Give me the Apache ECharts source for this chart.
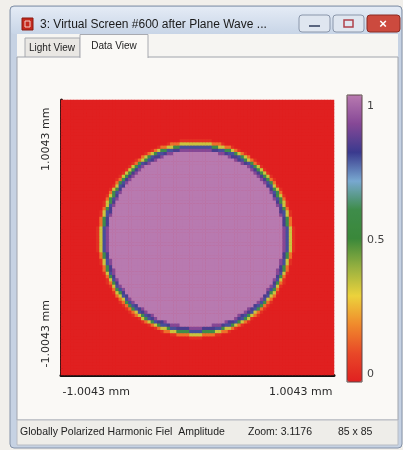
<!DOCTYPE html>
<html>
<head>
<meta charset="utf-8">
<script src="https://cdn.jsdelivr.net/npm/echarts@6/dist/echarts.min.js"></script>
<style>
html, body { margin: 0; padding: 0; background: #f1efeb; }
#main { width: 403px; height: 450px; }
</style>
</head>
<body>
<div id="main"></div>
<script>
// virtual screen: 85 x 85 samples
const gridSize = 85
const axisTicks = ["-1.0043 mm", "1.0043 mm"]
const barTicks = [0, 0.5, 1]
// aperture, measured in samples from the picture
const diskCenter = [41.5, 41.7]
const innerValue = 1.0
const edgeStart = 27 // radius where the rim begins
const edgeStep = 0.5
const edgeProfile = [1.0, 0.9, 0.82, 0.78, 0.6, 0.34, 0.16, 0.04, 0]
// colour table of the amplitude bar, 0 -> 1 in steps of 0.1
const barColors = ["#e02020", "#e84828", "#f08a2c", "#ecd23c", "#96b040", "#3a883a",
  "#3e8c4a", "#78a8d0", "#3a3a8e", "#864896", "#b87ab0"]

const cats = []
for (let i = 0; i < gridSize; i++) cats.push(i)

// amplitude per sample, looked up from the rim profile
const cells = []
for (let y = 0; y < gridSize; y++) {
  for (let x = 0; x < gridSize; x++) {
    const r = Math.hypot(x - diskCenter[0], y - diskCenter[1])
    const k = Math.round((r - edgeStart) / edgeStep)
    let v = 0
    if (k < 0) v = innerValue
    else if (k < edgeProfile.length) v = edgeProfile[k]
    cells.push([x, y, v])
  }
}

const uiFont = "Liberation Sans"
const labelStyle = { color: "#2a2a2a", fontSize: 11, fontFamily: "DejaVu Sans" }

// window chrome of the viewer
const chrome = [
  { type: "rect", z: -10, shape: { x: 10, y: 6, width: 392, height: 442, r: 4 },
    style: { fill: "#c6d2e3", stroke: "#8492a8" } },
  { type: "rect", z: -9, shape: { x: 11, y: 7, width: 390, height: 27, r: 3 },
    style: { fill: new echarts.graphic.LinearGradient(0, 0, 0, 1, [
      { offset: 0, color: "#e4ebf5" }, { offset: 1, color: "#c8d5e7" }]) } },
  { type: "rect", z: -8, shape: { x: 22, y: 18, width: 11, height: 12 },
    style: { fill: "#c4281c", stroke: "#8a1a10" } },
  { type: "rect", z: -7, shape: { x: 25, y: 21, width: 5, height: 6 },
    style: { fill: "none", stroke: "#f4d0c8", lineWidth: 1 } },
  { type: "text", z: -7, x: 40, y: 25,
    style: { text: "3: Virtual Screen #600 after Plane Wave ...", fill: "#1a1a1a",
      font: "12px " + uiFont, verticalAlign: "middle" } },
  { type: "rect", z: -8, shape: { x: 299, y: 15, width: 31, height: 17, r: 3 },
    style: { fill: "#dfe6f0", stroke: "#8a96aa" } },
  { type: "rect", z: -7, shape: { x: 309, y: 25, width: 11, height: 2 },
    style: { fill: "#5a6680" } },
  { type: "rect", z: -8, shape: { x: 333, y: 15, width: 31, height: 17, r: 3 },
    style: { fill: "#dfe6f0", stroke: "#8a96aa" } },
  { type: "rect", z: -7, shape: { x: 344, y: 20, width: 9, height: 7 },
    style: { fill: "none", stroke: "#b0404a", lineWidth: 1.5 } },
  { type: "rect", z: -8, shape: { x: 367, y: 15, width: 33, height: 17, r: 3 },
    style: { fill: "#cc4a3e", stroke: "#8a2a22" } },
  { type: "text", z: -7, x: 383, y: 24,
    style: { text: "×", fill: "#fff", font: "bold 13px " + uiFont, align: "center", verticalAlign: "middle" } },
  { type: "rect", z: -9, shape: { x: 17, y: 34, width: 381, height: 24 },
    style: { fill: "#f6f5f2" } },
  { type: "rect", z: -8, shape: { x: 25, y: 38, width: 55, height: 20 },
    style: { fill: "#e9e7e3", stroke: "#a8aab0" } },
  { type: "text", z: -7, x: 52, y: 48,
    style: { text: "Light View", fill: "#222", font: "10px " + uiFont, align: "center", verticalAlign: "middle" } },
  { type: "rect", z: -8, shape: { x: 17, y: 57, width: 381, height: 363 },
    style: { fill: "#faf9f6", stroke: "#a0a4ac" } },
  { type: "rect", z: -7, shape: { x: 80, y: 34, width: 68, height: 24 },
    style: { fill: "#faf9f6" } },
  { type: "polyline", z: -6, shape: { points: [[80, 58], [80, 34.5], [148, 34.5], [148, 58]] },
    style: { fill: "none", stroke: "#a8aab0" } },
  { type: "text", z: -6, x: 114, y: 46,
    style: { text: "Data View", fill: "#222", font: "10px " + uiFont, align: "center", verticalAlign: "middle" } },
  { type: "rect", z: -8, shape: { x: 17, y: 420, width: 381, height: 25 },
    style: { fill: "#eeede9", stroke: "#b8bcc4" } },
  { type: "text", z: -7, x: 20, y: 432,
    style: { text: "Globally Polarized Harmonic Fiel  Amplitude", fill: "#222",
      font: "10.5px " + uiFont, verticalAlign: "middle" } },
  { type: "text", z: -7, x: 248, y: 432,
    style: { text: "Zoom: 3.1176", fill: "#222", font: "10.5px " + uiFont, verticalAlign: "middle" } },
  { type: "text", z: -7, x: 338, y: 432,
    style: { text: "85 x 85", fill: "#222", font: "10.5px " + uiFont, verticalAlign: "middle" } }
]

const option = {
  animation: false,
  graphic: chrome,
  grid: [
    // red backing keeps the sample seams from showing
    { left: 61, top: 100, width: 273, height: 275, show: true,
      backgroundColor: "#e02020", borderWidth: 0 },
    { left: 347, top: 95, width: 15, height: 287, show: true, z: 10,
      backgroundColor: "transparent", borderColor: "#5a4646", borderWidth: 1 }
  ],
  xAxis: [
    {
      type: "category", gridIndex: 0, data: cats,
      axisLine: { lineStyle: { color: "#111", width: 3 } },
      axisTick: { show: false },
      splitLine: { show: false },
      axisLabel: Object.assign({
        interval: (i) => i === 0 || i === gridSize - 1,
        formatter: (v, i) => (i === 0 ? axisTicks[0] : axisTicks[1]),
        alignMinLabel: "left", alignMaxLabel: "right", margin: 12
      }, labelStyle)
    },
    { type: "value", gridIndex: 1, show: false, min: 0, max: 1 }
  ],
  yAxis: [
    {
      type: "category", gridIndex: 0, data: cats,
      axisLine: { lineStyle: { color: "#111", width: 3 } },
      axisTick: { show: false },
      splitLine: { show: false },
      axisLabel: Object.assign({
        interval: (i) => i === 0 || i === gridSize - 1,
        formatter: (v, i) => (i === 0 ? axisTicks[0] : axisTicks[1]),
        rotate: 90, alignMinLabel: "left", alignMaxLabel: "right", margin: 9,
        padding: [0, 6, 0, 6]
      }, labelStyle)
    },
    {
      type: "value", gridIndex: 1, position: "right", min: -0.03, max: 1.04,
      axisLine: { show: false }, axisTick: { show: false }, splitLine: { show: false },
      axisLabel: Object.assign({ customValues: barTicks, margin: 5 }, labelStyle, { color: "#444" })
    }
  ],
  visualMap: {
    type: "continuous", min: 0, max: 1, seriesIndex: 0,
    calculable: false, hoverLink: false, padding: 0,
    left: 347, top: 95, itemWidth: 15, itemHeight: 287,
    inRange: { color: barColors }
  },
  series: [
    { type: "heatmap", xAxisIndex: 0, yAxisIndex: 0, data: cells }
  ]
}

const myChart = echarts.init(document.getElementById("main"))
myChart.setOption(option)
window.addEventListener("resize", function () {
  myChart.resize()
})
</script>
</body>
</html>
